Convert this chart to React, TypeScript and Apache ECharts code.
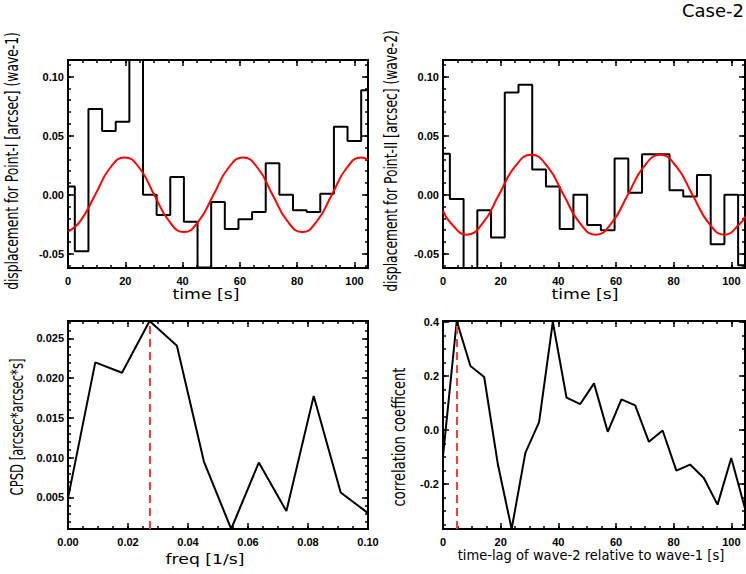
import React, { useEffect, useRef } from 'react';
import * as echarts from 'echarts';

// sample times [s] of the two displacement series
const TIMES = [0, 4.76, 9.52, 14.28, 19.04, 23.8, 28.56, 33.32, 38.08, 42.84, 47.6, 52.36, 57.12, 61.88, 66.64, 71.4, 76.16, 80.92, 85.68, 90.44, 95.2, 99.96, 104.72];
const WAVE1 = [0.007, -0.0478, 0.0725, 0.0539, 0.0618, 0.14, 0.0, -0.0171, 0.0149, -0.0228, -0.0615, -0.0062, -0.0289, -0.0208, -0.0146, 0.0267, 0.0, -0.0132, -0.0146, 0.0008, 0.0576, 0.0455, 0.0885];
const WAVE2 = [0.0346, -0.0037, -0.075, -0.0132, -0.0362, 0.0865, 0.093, 0.0213, 0.007, -0.0289, 0.0, -0.0256, -0.0301, 0.0306, 0.0017, 0.0343, 0.0343, 0.0037, -0.0014, 0.0166, -0.0419, 0.0, -0.0596];

// red fitted curves, read at peaks, troughs and between
const FIT1_T = [0, 4.3, 9.5, 14.6, 19.8, 25.0, 30.1, 35.3, 40.5, 45.6, 50.8, 55.9, 61.1, 66.3, 71.4, 76.6, 81.8, 86.9, 92.1, 97.2, 102.4, 104.72];
const FIT1 = [-0.0313, -0.0224, 0, 0.0224, 0.0316, 0.0224, 0, -0.0224, -0.0316, -0.0224, 0, 0.0224, 0.0316, 0.0224, 0, -0.0224, -0.0316, -0.0224, 0, 0.0224, 0.0316, 0.0297];
const FIT2_T = [0, 2.66, 8.25, 13.84, 19.4, 25.0, 30.6, 36.2, 41.8, 47.4, 52.95, 58.5, 64.1, 69.7, 75.3, 80.9, 86.5, 92.1, 97.65, 103.2, 104.72];
const FIT2 = [-0.0135, -0.0239, -0.0338, -0.0239, 0, 0.0239, 0.0338, 0.0239, 0, -0.0239, -0.0338, -0.0239, 0, 0.0239, 0.0338, 0.0239, 0, -0.0239, -0.0338, -0.0239, -0.0185];

const FREQS = [0, 0.0091, 0.018, 0.0272, 0.0363, 0.0453, 0.0544, 0.0636, 0.0728, 0.0819, 0.0909, 0.1];
const CPSD = [0.00492, 0.02199, 0.02069, 0.0272, 0.02408, 0.00952, 0.00103, 0.00939, 0.00328, 0.01776, 0.00563, 0.00303];
const PEAK_FREQ = 0.0272;

const LAGS = [0, 4.76, 9.52, 14.28, 19.04, 23.8, 28.56, 33.32, 38.08, 42.84, 47.6, 52.36, 57.12, 61.88, 66.64, 71.4, 76.16, 80.92, 85.68, 90.44, 95.2, 99.96, 104.72];
const CORR = [-0.0965, 0.404, 0.2375, 0.1967, -0.1274, -0.366, -0.0841, 0.0297, 0.4007, 0.12, 0.0965, 0.1731, -0.0062, 0.1138, 0.0915, -0.0433, -0.0012, -0.1497, -0.1274, -0.1769, -0.2758, -0.103, -0.29];
const PEAK_LAG = 4.76;

// tick labels
const TIME_TICKS = [0, 20, 40, 60, 80, 100];
const DISP_TICKS = [-0.05, 0, 0.05, 0.1];
const FREQ_TICKS = [0, 0.02, 0.04, 0.06, 0.08, 0.1];
const CPSD_TICKS = [0.005, 0.01, 0.015, 0.02, 0.025];
const CORR_TICKS = [-0.2, 0, 0.2, 0.4];

const TIME_RANGE = [0, 104.72];
const DISP_RANGE = [-0.062, 0.114];
const FREQ_RANGE = [0, 0.1];
const CPSD_RANGE = [0.00103, 0.0272];
const CORR_RANGE = [-0.366, 0.404];

const TICK_FONT = '"Liberation Sans", Arial, sans-serif';
const TITLE_FONT = '"DejaVu Sans", sans-serif';

const zip = (xs: number[], ys: number[]) => xs.map((x, i) => [x, ys[i]]);

// minor tick positions inside a range
const minors = (range: number[], step: number) => {
  const out: number[] = [];
  for (let k = Math.ceil(range[0] / step - 1e-9); k * step <= range[1] + 1e-12; k++) {
    out.push(Math.round(k * step * 1e6) / 1e6);
  }
  return out;
};

const measure = (text: string, size: number) => {
  const ctx = document.createElement('canvas').getContext('2d')!;
  ctx.font = `${size}px "DejaVu Sans"`;
  return ctx.measureText(text).width;
};

const tickAxis = (gridIndex: number, position: string, range: number[], values: number[], length: number, label?: (v: number) => string, margin = 5) => ({
  type: 'value',
  gridIndex,
  position,
  min: range[0],
  max: range[1],
  axisLine: { show: false, onZero: false },
  splitLine: { show: false },
  axisTick: { show: true, inside: true, length, customValues: values, lineStyle: { color: '#000', width: 1.5 } },
  axisLabel: label
    ? { show: true, customValues: values, formatter: label, margin, color: '#000', fontFamily: TICK_FONT, fontWeight: 'bold', fontSize: 11 }
    : { show: false },
});

const panel = (g: number, xr: number[], yr: number[], xt: number[], yt: number[], xm: number, ym: number, xf: (v: number) => string, yf: (v: number) => string) => ({
  x: [
    tickAxis(g, 'bottom', xr, xt, 6, xf, 7),
    tickAxis(g, 'bottom', xr, minors(xr, xm), 3),
    tickAxis(g, 'top', xr, xt, 6),
    tickAxis(g, 'top', xr, minors(xr, xm), 3),
  ],
  y: [
    tickAxis(g, 'left', yr, yt, 6, yf, 4),
    tickAxis(g, 'left', yr, minors(yr, ym), 3),
    tickAxis(g, 'right', yr, yt, 6),
    tickAxis(g, 'right', yr, minors(yr, ym), 3),
  ],
});

const axisTitle = (text: string, x: number, y: number, length: number, size: number, vertical: boolean) => ({
  type: 'text',
  x,
  y,
  rotation: vertical ? Math.PI / 2 : 0,
  scaleX: length / measure(text, size),
  style: { text, fontSize: size, fontFamily: TITLE_FONT, fill: '#000', align: 'center', verticalAlign: 'middle' },
});

const App: React.FC = () => {
  const chartRef = useRef<HTMLDivElement>(null);

  useEffect(() => {
    if (!chartRef.current) return;
    const chart = echarts.init(chartRef.current, null, { renderer: 'svg' });

    const f2 = (v: number) => v.toFixed(2);
    const f0 = (v: number) => v.toFixed(0);
    const panels = [
      panel(0, TIME_RANGE, DISP_RANGE, TIME_TICKS, DISP_TICKS, 5, 0.01, f0, f2),
      panel(1, TIME_RANGE, DISP_RANGE, TIME_TICKS, DISP_TICKS, 5, 0.01, f0, f2),
      panel(2, FREQ_RANGE, CPSD_RANGE, FREQ_TICKS, CPSD_TICKS, 0.005, 0.001, f2, (v) => v.toFixed(3)),
      panel(3, TIME_RANGE, CORR_RANGE, TIME_TICKS, CORR_TICKS, 5, 0.05, f0, (v) => v.toFixed(1)),
    ];
    const frame = { show: true, borderColor: '#000', borderWidth: 2, backgroundColor: 'transparent', outerBoundsMode: 'none' };

    const black = { color: '#000', width: 2 };
    const red = { color: '#ff0000', width: 2 };
    // vertical dashed marker; precision kept high so the x value is not rounded
    const dashed = {
      silent: true,
      precision: 6,
      symbol: ['none', 'none'],
      label: { show: false },
      lineStyle: { color: '#ff3b3b', width: 2, type: [8, 5] },
    };

    const option: any = {
      animation: false,
      backgroundColor: '#fff',
      grid: [
        { ...frame, left: 68, top: 60, width: 300, height: 208 },
        { ...frame, left: 443, top: 60, width: 302, height: 208 },
        { ...frame, left: 68, top: 321, width: 300, height: 208 },
        { ...frame, left: 443, top: 321, width: 302, height: 208 },
      ],
      xAxis: panels.flatMap((p) => p.x),
      yAxis: panels.flatMap((p) => p.y),
      series: [
        { type: 'line', xAxisIndex: 0, yAxisIndex: 0, data: zip(TIMES, WAVE1), step: 'middle', symbol: 'none', lineStyle: black },
        { type: 'line', xAxisIndex: 0, yAxisIndex: 0, data: zip(FIT1_T, FIT1), smooth: true, symbol: 'none', lineStyle: red },
        { type: 'line', xAxisIndex: 4, yAxisIndex: 4, data: zip(TIMES, WAVE2), step: 'middle', symbol: 'none', lineStyle: black },
        { type: 'line', xAxisIndex: 4, yAxisIndex: 4, data: zip(FIT2_T, FIT2), smooth: true, symbol: 'none', lineStyle: red },
        {
          type: 'line', xAxisIndex: 8, yAxisIndex: 8, data: zip(FREQS, CPSD), symbol: 'none', lineStyle: black,
          markLine: { ...dashed, data: [{ xAxis: PEAK_FREQ }] },
        },
        {
          type: 'line', xAxisIndex: 12, yAxisIndex: 12, data: zip(LAGS, CORR), symbol: 'none', lineStyle: black,
          markLine: { ...dashed, data: [{ xAxis: PEAK_LAG }] },
        },
      ],
      graphic: [
        {
          type: 'text', x: 744, y: 10,
          style: { text: 'Case-2', fontSize: 18, fontFamily: TITLE_FONT, fill: '#000', align: 'right', verticalAlign: 'middle' },
        },
        axisTitle('displacement for Point-I [arcsec] (wave-1)', 12, 161, 258, 17, true),
        axisTitle('displacement for Point-II [arcsec] (wave-2)', 391, 161, 262, 17, true),
        axisTitle('CPSD [arcsec*arcsec*s]', 17, 427, 137, 17, true),
        axisTitle('correlation coefficent', 399, 437, 139, 17, true),
        axisTitle('time [s]', 206, 294, 67, 14, false),
        axisTitle('time [s]', 585, 294, 67, 14, false),
        axisTitle('freq [1/s]', 205, 559, 79, 14, false),
        axisTitle('time-lag of wave-2 relative to wave-1 [s]', 591, 555, 267, 14, false),
      ],
    };

    chart.setOption(option);
    return () => chart.dispose();
  }, []);

  return (
    <div
      ref={chartRef}
      style={{ position: 'absolute', left: 0, top: 0, width: 746, height: 574 }}
    />
  );
};

export default App;
